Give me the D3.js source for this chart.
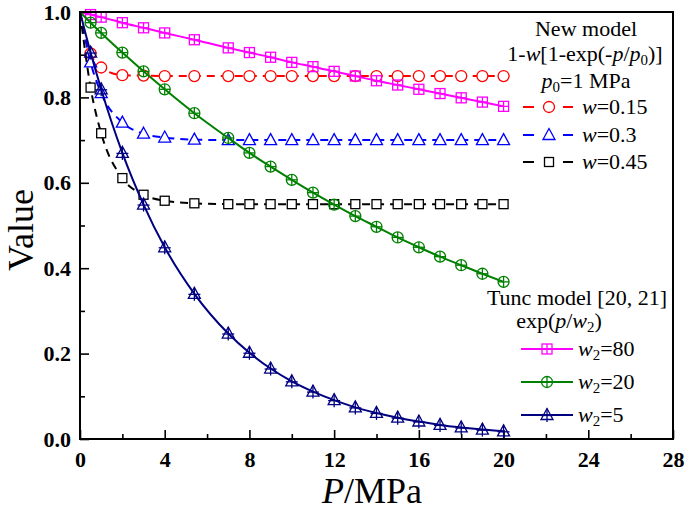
<!DOCTYPE html>
<html><head><meta charset="utf-8">
<script src="https://cdn.jsdelivr.net/npm/d3@7"></script>
<style>
body{margin:0;background:#fff;}
svg{display:block;font-family:"Liberation Serif","Times New Roman",serif;}
</style></head>
<body><svg id="c" width="685" height="516"></svg>
<script>
// ---------- data ----------
const pressure = [0, 0.5, 1, 2, 3, 4, 5.4, 7, 8, 9, 10, 11, 12, 13, 14, 15, 16, 17, 18, 19, 20];
// New model, dashed
const newW015 = [1, 0.903, 0.870, 0.852, 0.851, 0.850, 0.850, 0.850, 0.850, 0.850, 0.850, 0.850, 0.850, 0.850, 0.850, 0.850, 0.850, 0.850, 0.850, 0.850, 0.850];
const newW03  = [1, 0.882, 0.810, 0.741, 0.715, 0.706, 0.701, 0.700, 0.700, 0.700, 0.700, 0.700, 0.700, 0.700, 0.700, 0.700, 0.700, 0.700, 0.700, 0.700, 0.700];
const newW045 = [1, 0.823, 0.716, 0.611, 0.572, 0.558, 0.552, 0.550, 0.550, 0.550, 0.550, 0.550, 0.550, 0.550, 0.550, 0.550, 0.550, 0.550, 0.550, 0.550, 0.550];
// Tunc model, solid
const tuncW80 = [1, 0.994, 0.988, 0.975, 0.963, 0.951, 0.935, 0.916, 0.905, 0.894, 0.882, 0.872, 0.861, 0.850, 0.839, 0.829, 0.819, 0.809, 0.799, 0.789, 0.779];
const tuncW20 = [1, 0.975, 0.951, 0.905, 0.861, 0.819, 0.763, 0.705, 0.670, 0.638, 0.607, 0.577, 0.549, 0.522, 0.497, 0.472, 0.449, 0.427, 0.407, 0.387, 0.368];
const tuncW5  = [1, 0.905, 0.819, 0.670, 0.549, 0.449, 0.340, 0.247, 0.202, 0.165, 0.135, 0.111, 0.091, 0.074, 0.061, 0.050, 0.041, 0.033, 0.027, 0.022, 0.018];

const xTicks = [0, 4, 8, 12, 16, 20, 24, 28];
const yTicks = [0, 0.2, 0.4, 0.6, 0.8, 1.0];

const series = [
  {vals: newW015, color: "#ff0000", dash: true,  marker: "circle",   label: [["w", "i"], ["=0.15"]]},
  {vals: newW03,  color: "#0000ff", dash: true,  marker: "triangle", label: [["w", "i"], ["=0.3"]]},
  {vals: newW045, color: "#000000", dash: true,  marker: "square",   label: [["w", "i"], ["=0.45"]]},
  {vals: tuncW80, color: "#ff00ff", dash: false, marker: "squarePlus",   label: [["w", "i"], ["2", "sub"], ["=80"]]},
  {vals: tuncW20, color: "#008000", dash: false, marker: "circlePlus",   label: [["w", "i"], ["2", "sub"], ["=20"]]},
  {vals: tuncW5,  color: "#000080", dash: false, marker: "trianglePlus", label: [["w", "i"], ["2", "sub"], ["=5"]]}
];

// ---------- layout ----------
const svg = d3.select("#c");
const L = 80, R = 673, T = 12, B = 439;
const x = d3.scaleLinear().domain([0, 28]).range([L, R]);
const y = d3.scaleLinear().domain([0, 1]).range([B, T]);

// axes (inward ticks)
const gx = svg.append("g").attr("transform", `translate(0,${B})`)
  .call(d3.axisBottom(x).tickValues(xTicks).tickFormat(d3.format("d")).tickSizeInner(-9).tickSizeOuter(0).tickPadding(12));
const gxm = svg.append("g").attr("transform", `translate(0,${B})`)
  .call(d3.axisBottom(x).tickValues(d3.range(2, 28, 4)).tickFormat("").tickSizeInner(-5).tickSizeOuter(0));
const gy = svg.append("g").attr("transform", `translate(${L},0)`)
  .call(d3.axisLeft(y).tickValues(yTicks).tickFormat(d3.format(".1f")).tickSizeInner(-9).tickSizeOuter(0).tickPadding(9));
const gym = svg.append("g").attr("transform", `translate(${L},0)`)
  .call(d3.axisLeft(y).tickValues([0.1, 0.3, 0.5, 0.7, 0.9]).tickFormat("").tickSizeInner(-5).tickSizeOuter(0));
[gx, gxm, gy, gym].forEach(g => {
  g.select(".domain").remove();
  g.selectAll(".tick line").attr("stroke", "#000").attr("stroke-width", 1.6);
  g.selectAll(".tick text").attr("fill", "#000").attr("font-family", "Liberation Serif")
    .attr("font-weight", "bold").attr("font-size", 22);
});

// ---------- markers ----------
function drawMarker(g, type, cx, cy, color, filled) {
  const m = g.append("g").attr("transform", `translate(${cx},${cy})`)
    .attr("fill", filled ? "#fff" : "none").attr("stroke", color).attr("stroke-width", 1.3);
  if (type === "circle" || type === "circlePlus") {
    m.append("circle").attr("r", 5.5);
    if (type === "circlePlus") {
      m.append("line").attr("x1", -5.5).attr("x2", 5.5);
      m.append("line").attr("y1", -5.5).attr("y2", 5.5);
    }
  } else if (type === "square" || type === "squarePlus") {
    const s = type === "square" ? 4.5 : 5;
    m.append("rect").attr("x", -s).attr("y", -s).attr("width", 2 * s).attr("height", 2 * s);
    if (type === "squarePlus") {
      m.append("line").attr("x1", -s).attr("x2", s);
      m.append("line").attr("y1", -s).attr("y2", s);
    }
  } else {
    m.append("path").attr("d", "M0,-6.5L6,4.5L-6,4.5Z");
    if (type === "trianglePlus") {
      m.append("line").attr("y1", -6.5).attr("y2", 7);
      m.append("line").attr("x1", -6).attr("x2", 6).attr("y1", 0.5).attr("y2", 0.5);
    }
  }
}

// ---------- series ----------
const line = d3.line().x((d, i) => x(pressure[i])).y(d => y(d)).curve(d3.curveMonotoneX);
const plot = svg.append("g");
series.forEach(s => {
  plot.append("path").attr("d", line(s.vals)).attr("fill", "none")
    .attr("stroke", s.color).attr("stroke-width", 2)
    .attr("stroke-dasharray", s.dash ? "8,6" : null);
  s.vals.forEach((v, i) => {
    if (i === 0) return;
    drawMarker(plot, s.marker, x(pressure[i]), y(v), s.color, s.dash);
  });
});

// frame
svg.append("rect").attr("x", L).attr("y", T).attr("width", R - L).attr("height", B - T)
  .attr("fill", "none").attr("stroke", "#000").attr("stroke-width", 2);

// ---------- text helpers ----------
function richText(parent, xPos, yPos, parts, size, anchor) {
  const t = parent.append("text").attr("x", xPos).attr("y", yPos)
    .attr("font-size", size).attr("text-anchor", anchor || "start").attr("fill", "#000");
  let shifted = false;
  parts.forEach(p => {
    const ts = t.append("tspan").text(p[0]);
    if (p[1] === "i") ts.attr("font-style", "italic");
    if (p[1] === "sub") {
      ts.attr("font-size", size * 0.68).attr("dy", size * 0.2); shifted = true;
    } else if (shifted) {
      ts.attr("dy", -size * 0.2); shifted = false;
    }
  });
  return t;
}

// ---------- legends ----------
const lg = svg.append("g");
richText(lg, 586, 36, [["New model"]], 22, "middle");
richText(lg, 585, 61, [["1-"], ["w", "i"], ["[1-exp(-"], ["p", "i"], ["/"], ["p", "i"], ["0", "sub"], [")]"]], 22, "middle");
richText(lg, 586, 88, [["p", "i"], ["0", "sub"], ["=1 MPa"]], 22, "middle");
const topRows = [107, 135, 162];
[0, 1, 2].forEach((k, j) => {
  const s = series[k], yy = topRows[j];
  lg.append("line").attr("x1", 523).attr("x2", 534).attr("y1", yy).attr("y2", yy).attr("stroke", s.color).attr("stroke-width", 2);
  lg.append("line").attr("x1", 563).attr("x2", 573).attr("y1", yy).attr("y2", yy).attr("stroke", s.color).attr("stroke-width", 2);
  drawMarker(lg, s.marker, 549, yy, s.color, true);
  richText(lg, 582, yy + 7, s.label, 22);
});

richText(lg, 577, 305, [["Tunc model [20, 21]"]], 22, "middle");
richText(lg, 559, 328, [["exp("], ["p", "i"], ["/"], ["w", "i"], ["2", "sub"], [")"]], 22, "middle");
const botRows = [349, 382, 415];
[3, 4, 5].forEach((k, j) => {
  const s = series[k], yy = botRows[j];
  lg.append("line").attr("x1", 521).attr("x2", 573).attr("y1", yy).attr("y2", yy).attr("stroke", s.color).attr("stroke-width", 2);
  drawMarker(lg, s.marker, 547, yy, s.color, false);
  richText(lg, 578, yy + 7, s.label, 22);
});

// ---------- axis titles ----------
richText(svg, 372, 503, [["P", "i"], ["/MPa"]], 36, "middle");
svg.append("text").attr("transform", "translate(33,230) rotate(-90)")
  .attr("text-anchor", "middle").attr("font-size", 36).attr("fill", "#000").text("Value");
</script>
</body></html>
